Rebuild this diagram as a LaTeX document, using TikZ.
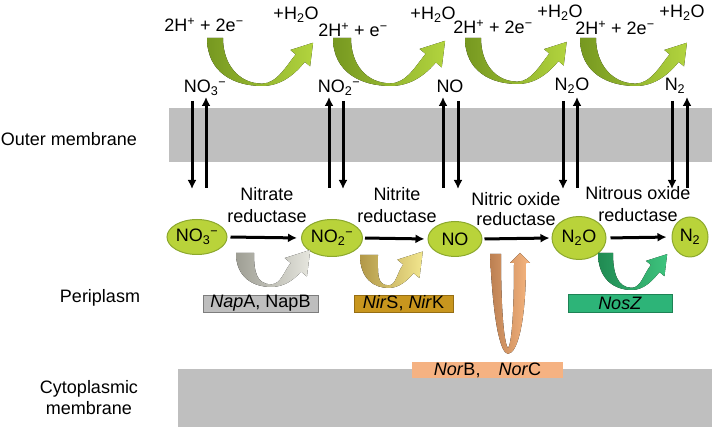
\documentclass[tikz,border=0pt]{standalone}
\usepackage{fontspec}
\setmainfont{Liberation Sans}
\usetikzlibrary{arrows.meta,shapes.geometric,positioning}

\definecolor{leaf}{RGB}{185,211,58}
\definecolor{leafdark}{RGB}{140,168,45}
\definecolor{oliveL}{RGB}{118,152,32}
\definecolor{oliveR}{RGB}{178,212,62}
\definecolor{memb}{RGB}{191,191,191}
\definecolor{napbox}{RGB}{190,190,190}
\definecolor{napline}{RGB}{125,125,125}
\definecolor{napL}{RGB}{158,158,148}
\definecolor{napR}{RGB}{230,230,222}
\definecolor{nirbox}{RGB}{200,150,30}
\definecolor{nirline}{RGB}{150,110,20}
\definecolor{nirL}{RGB}{178,152,72}
\definecolor{nirR}{RGB}{242,230,142}
\definecolor{norbox}{RGB}{245,178,130}
\definecolor{norL}{RGB}{188,128,82}
\definecolor{norR}{RGB}{247,182,128}
\definecolor{nosbox}{RGB}{45,180,120}
\definecolor{nosline}{RGB}{30,130,85}
\definecolor{nosL}{RGB}{32,138,82}
\definecolor{nosR}{RGB}{62,196,126}

% ribbon U-arrow: x, y (top left), width, depth, thickness, left colour, right colour
\newcommand{\swoosh}[7]{%
  \pgfmathsetmacro{\swcx}{0.88*#3}%
  \pgfmathsetmacro{\swcy}{0.42*#4}%
  \pgfmathsetmacro{\swex}{\swcx+0.285*#5}\pgfmathsetmacro{\swey}{\swcy+0.237*#5}%
  \pgfmathsetmacro{\swfx}{\swcx-0.285*#5}\pgfmathsetmacro{\swfy}{\swcy-0.237*#5}%
  \fill[shift={(#1,#2)},left color=#6,right color=#7]
    (0,0) .. controls (0,{0.73*#4}) and ({0.26*#3},#4) .. ({0.52*#3},#4)
    .. controls ({0.71*#3},#4) and ({\swex-0.19*#4},{\swey+0.23*#4}) .. (\swex,\swey)
    -- ({\swcx+0.616*#5},{\swcy+0.512*#5})
    -- ({\swcx+0.8*#5},{\swcy-0.9625*#5})
    -- ({\swcx-0.616*#5},{\swcy-0.512*#5})
    -- (\swfx,\swfy)
    .. controls ({\swfx-0.19*#4},{\swfy+0.23*#4}) and ({0.66*#3},{#4-0.15*#5}) .. ({0.52*#3},{#4-0.15*#5})
    .. controls ({0.3*#3},{#4-0.15*#5}) and (#5,{0.55*#4}) .. (#5,0) -- cycle;}

\tikzset{
  species/.style={ellipse,fill=leaf,draw=leafdark,line width=1pt,inner sep=0pt},
  flow/.style={-{Latex[length=9pt,width=9pt]},line width=3pt},
  enzyme/.style={rectangle,inner sep=0pt,minimum height=17pt,line width=.8pt},
  lbl/.style={inner sep=0pt,anchor=base},
}

\begin{document}
\begin{tikzpicture}[x=1pt,y=-1pt,font=\fontsize{18}{22}\selectfont]
\useasboundingbox (0,0) rectangle (716,427);

% membranes
\fill[memb] (169,108) rectangle (712,162);
\fill[memb] (178,369) rectangle (712,427);
\node[lbl] (outer) at (69,146) {Outer membrane};
\node[lbl] (peri) at (100,303) {Periplasm};
\node[align=center,inner sep=0pt,font=\fontsize{18}{21}\selectfont] (cyto) at (89,398) {Cytoplasmic\\membrane};

% electrons and water
\swoosh{207}{38}{106}{48}{16}{oliveL}{oliveR}
\swoosh{333}{38}{111}{48}{18}{oliveL}{oliveR}
\swoosh{465}{38}{101}{46}{16}{oliveL}{oliveR}
\swoosh{580}{38}{107}{48}{16}{oliveL}{oliveR}
\node[lbl] (t1) at (204,32) {2H\textsuperscript{+} + 2e\textsuperscript{−}};
\node[lbl] (w1) at (296,20) {+H\textsubscript{2}O};
\node[lbl] (t2) at (353,37) {2H\textsuperscript{+} + e\textsuperscript{−}};
\node[lbl] (w2) at (433,20) {+H\textsubscript{2}O};
\node[lbl] (t3) at (493,34) {2H\textsuperscript{+} + 2e\textsuperscript{−}};
\node[lbl] (w3) at (560,18) {+H\textsubscript{2}O};
\node[lbl] (t4) at (615,35) {2H\textsuperscript{+} + 2e\textsuperscript{−}};
\node[lbl] (w4) at (682,18) {+H\textsubscript{2}O};

% across the outer membrane
\node[lbl] (m1) at (205,93) {NO\textsubscript{3}\textsuperscript{−}};
\node[lbl] (m2) at (339,93) {NO\textsubscript{2}\textsuperscript{−}};
\node[lbl] (m3) at (450,93) {NO};
\node[lbl] (m4) at (572,91) {N\textsubscript{2}O};
\node[lbl] (m5) at (675,91) {N\textsubscript{2}};
\foreach \k/\xd/\xu in {1/192/206,2/343/329,3/458/443,4/563/577,5/672/687}{
  \coordinate (in\k) at (\xd,101);
  \coordinate (out\k) at (\xd,189);
  \draw[flow] (in\k) -- (out\k);
  \coordinate (from\k) at (\xu,188);
  \coordinate (to\k) at (\xu,97);
  \draw[flow] (from\k) -- (to\k);
}

% reduction chain
\node[species,minimum width=60pt,minimum height=35pt] (no3) at (197,237) {NO\textsubscript{3}\textsuperscript{−}};
\node[species,minimum width=61pt,minimum height=37pt] (no2) at (332,238) {NO\textsubscript{2}\textsuperscript{−}};
\node[species,minimum width=54pt,minimum height=35pt] (no) at (455,239) {NO};
\node[species,minimum width=54pt,minimum height=43pt] (n2o) at (579,238) {N\textsubscript{2}O};
\node[species,minimum width=36pt,minimum height=40pt] (n2) at (690,237) {N\textsubscript{2}};
\draw[flow,shorten <=3pt,shorten >=4pt] (no3.east) -- (no2.west);
\draw[flow,shorten <=2pt,shorten >=3pt] (no2.east) -- (no.west);
\draw[flow,shorten <=2pt,shorten >=2pt] (no.east) -- (n2o.west);
\draw[flow,shorten <=4pt,shorten >=5pt] (n2o.east) -- (n2.west);

\node[align=center,inner sep=0pt] (r1) at (267,205) {Nitrate\\reductase};
\node[align=center,inner sep=0pt] (r2) at (397,205) {Nitrite\\reductase};
\node[align=center,inner sep=0pt,font=\fontsize{18}{20}\selectfont] (r3) at (516,209) {Nitric oxide\\reductase};
\node[align=center,inner sep=0pt] (r4) at (638,204) {Nitrous oxide\\reductase};

% enzymes
\swoosh{236}{253}{68}{34}{18}{napL}{napR}
\swoosh{360}{255}{55}{33}{18}{nirL}{nirR}
\swoosh{598}{253}{65}{37}{15}{nosL}{nosR}
\fill[left color=norL,right color=norR]
  (490,254) .. controls (493,320) and (500,353) .. (508,354)
  .. controls (518,353) and (526,320) .. (526,263) -- (530,263) -- (520,253)
  -- (510,263) -- (514,263) .. controls (514,320) and (511,345) .. (508,348)
  .. controls (505,345) and (501,320) .. (501,254) -- cycle;

\node[enzyme,fill=napbox,draw=napline,minimum width=115pt] (nap) at (260.5,303.5) {\textit{Nap}A, NapB};
\node[enzyme,fill=nirbox,draw=nirline,minimum width=99pt] (nir) at (403.5,303.5) {\textit{Nir}S, \textit{Nir}K};
\node[enzyme,fill=nosbox,draw=nosline,minimum width=104pt,minimum height=18pt] (nos) at (620,303) {\textit{NosZ}};
\node[enzyme,fill=norbox,minimum width=151pt,minimum height=16pt] (nor) at (487.5,370) {\textit{Nor}B,\quad\textit{Nor}C};

\end{tikzpicture}
\end{document}
